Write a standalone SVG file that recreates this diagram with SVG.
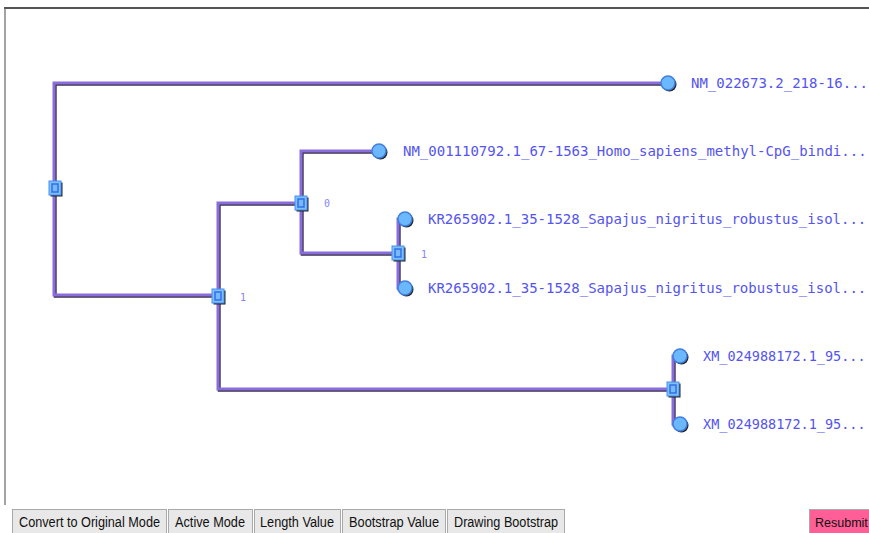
<svg xmlns="http://www.w3.org/2000/svg" width="869" height="533" viewBox="0 0 869 533">
<defs>
<style>
.sh{fill:none;stroke:#3a3348;stroke-width:3}
.ln{fill:none;stroke:#8a6ddc;stroke-width:3}
.lbl{font-family:"DejaVu Sans Mono","Liberation Mono",monospace;font-size:14px;fill:#5454f0}
.bs{font-family:"DejaVu Sans Mono","Liberation Mono",monospace;font-size:10px;fill:#8585f5}
.btn{fill:#e8e8e8;stroke:#a9a9a9;stroke-width:1}
.bt{font-family:"Liberation Sans",Arial,sans-serif;font-size:14px;fill:#111}
</style>
<g id="leafMark">
<circle cx="1.5" cy="1.5" r="7" fill="#222"/>
<circle cx="0" cy="0" r="7" fill="#6cb8ff" stroke="#3f7fe0" stroke-width="1.5"/>
</g>
<g id="innerMark">
<rect x="-4.5" y="-5.5" width="12" height="14" fill="#222"/>
<rect x="-6" y="-7" width="12" height="14" fill="#7cc0ff" stroke="#4a90f0" stroke-width="1"/>
<rect x="-3" y="-4" width="6" height="8" fill="#79b8ff" stroke="#2f6fe8" stroke-width="1.5"/>
</g>
</defs>
<rect x="0" y="0" width="869" height="533" fill="#ffffff"/>
<line x1="4" y1="8" x2="869" y2="8" stroke="#555" stroke-width="2"/>
<line x1="5" y1="8" x2="5" y2="505" stroke="#666" stroke-width="1.2"/>

<g id="connectors">
<g transform="translate(1.2,1.2)">
<path class="sh" d="M668 83 H54 V295 H218"/>
<path class="sh" d="M673 389 H218 V203 H301"/>
<path class="sh" d="M379 151 H301 V253 H398"/>
<path class="sh" d="M405 219 H398 V288 H405"/>
<path class="sh" d="M680 356 H673 V424 H680"/>
</g>
<path class="ln" d="M668 83 H54 V295 H218"/>
<path class="ln" d="M673 389 H218 V203 H301"/>
<path class="ln" d="M379 151 H301 V253 H398"/>
<path class="ln" d="M405 219 H398 V288 H405"/>
<path class="ln" d="M680 356 H673 V424 H680"/>
</g>

<g id="node-root"><use href="#innerMark" x="55" y="188"/></g>
<g id="node-a"><use href="#innerMark" x="218" y="296"/><text class="bs" x="240" y="301">1</text></g>
<g id="node-b"><use href="#innerMark" x="301" y="203"/><text class="bs" x="324" y="207">0</text></g>
<g id="node-c"><use href="#innerMark" x="398" y="253"/><text class="bs" x="421" y="258">1</text></g>
<g id="node-d"><use href="#innerMark" x="673" y="389"/></g>

<g id="leaf-1"><use href="#leafMark" x="668" y="83"/><text class="lbl" x="691" y="88">NM_022673.2_218-16...</text></g>
<g id="leaf-2"><use href="#leafMark" x="379" y="151"/><text class="lbl" x="403" y="156">NM_001110792.1_67-1563_Homo_sapiens_methyl-CpG_bindi...</text></g>
<g id="leaf-3"><use href="#leafMark" x="405" y="219"/><text class="lbl" x="428" y="224">KR265902.1_35-1528_Sapajus_nigritus_robustus_isol...</text></g>
<g id="leaf-4"><use href="#leafMark" x="405" y="288"/><text class="lbl" x="428" y="293">KR265902.1_35-1528_Sapajus_nigritus_robustus_isol...</text></g>
<g id="leaf-5"><use href="#leafMark" x="680" y="356"/><text class="lbl" x="703" y="361" style="font-size:13.5px">XM_024988172.1_95...</text></g>
<g id="leaf-6"><use href="#leafMark" x="680" y="424"/><text class="lbl" x="703" y="429" style="font-size:13.5px">XM_024988172.1_95...</text></g>

<g id="buttons">
<rect class="btn" x="12.5" y="509.5" width="154" height="25"/>
<text class="bt" x="19" y="527" textLength="141" lengthAdjust="spacingAndGlyphs">Convert to Original Mode</text>
<rect class="btn" x="168.5" y="509.5" width="84" height="25"/>
<text class="bt" x="175" y="527" textLength="70" lengthAdjust="spacingAndGlyphs">Active Mode</text>
<rect class="btn" x="254.5" y="509.5" width="86" height="25"/>
<text class="bt" x="260" y="527" textLength="74" lengthAdjust="spacingAndGlyphs">Length Value</text>
<rect class="btn" x="342.5" y="509.5" width="103" height="25"/>
<text class="bt" x="349" y="527" textLength="90" lengthAdjust="spacingAndGlyphs">Bootstrap Value</text>
<rect class="btn" x="447.5" y="509.5" width="117" height="25"/>
<text class="bt" x="454" y="527" textLength="104" lengthAdjust="spacingAndGlyphs">Drawing Bootstrap</text>
<rect x="809.5" y="509.5" width="70" height="25" fill="#ff5f96" stroke="#a9a9a9"/>
<text class="bt" x="815" y="527" style="font-size:12.5px">Resubmit</text>
</g>
</svg>
